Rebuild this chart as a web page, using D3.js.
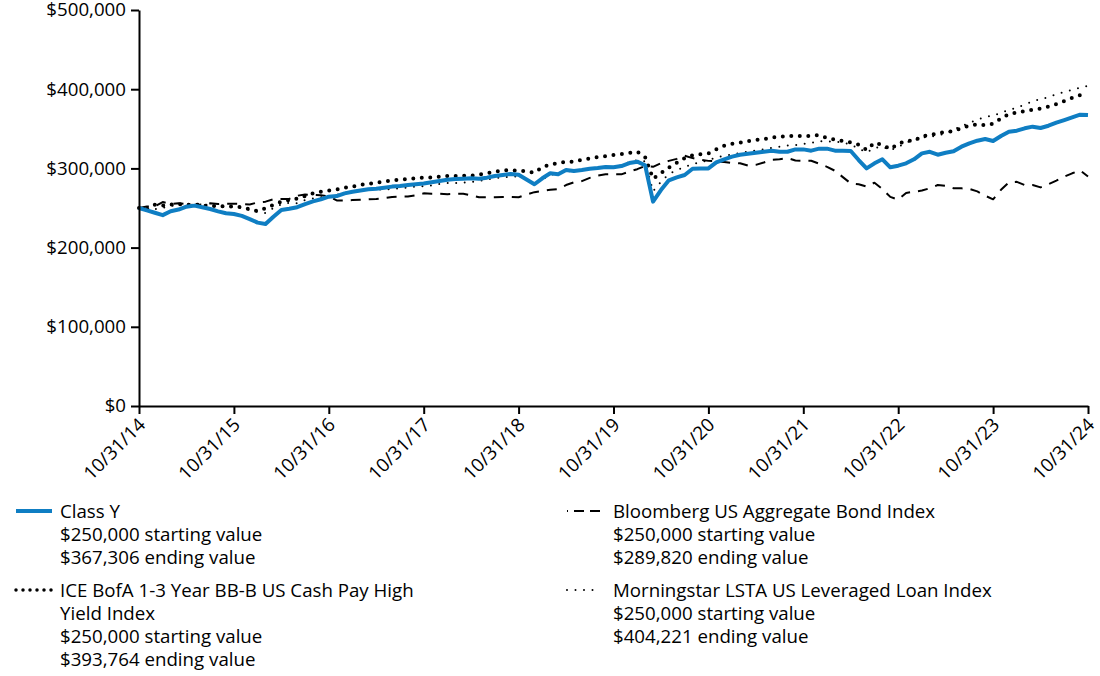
<!DOCTYPE html>
<html><head><meta charset="utf-8">
<script src="https://cdn.jsdelivr.net/npm/d3@7"></script>
<style>
body{margin:0;background:#fff;}
svg text{font-family:"Open Sans","Noto Sans",sans-serif;fill:#000;}
</style></head><body>
<svg id="chart" width="1100" height="676"></svg>
<script>
// x categories: month index 0..120 from 10/31/14 to 10/31/24 (monthly)
const tickLabels = ["10/31/14","10/31/15","10/31/16","10/31/17","10/31/18","10/31/19","10/31/20","10/31/21","10/31/22","10/31/23","10/31/24"];
const yTicks = [0,100000,200000,300000,400000,500000];

// values in thousands of dollars, month-end
const classY = [250,247,244,241,246,248,251.7,253,251,248.7,
245.8,243.3,242.4,240,236,231.5,229.8,239,247.5,249,
251,255,258.4,261,264.3,265,268.5,270.6,272,273.6,
274.4,275.6,277,277.8,279,280,281,282.4,284,285.7,
286.6,287,287.5,287,288.3,290.4,291.7,293,292,286,
280,287.5,293.8,292.5,298,296.7,298,299.6,300.5,301.8,
301.4,303,306.8,308.5,304,258,272.7,285,288.7,291.7,
299.6,300,300,307.7,311.5,314.8,317.3,318.6,319.8,321,
322.4,321,321,324,324,322.4,324.9,324.9,322.4,322.4,
322,310.6,300,306.4,311.5,301.4,303.4,306.4,311.5,319,
321,317.3,319.8,321.6,327.4,331.7,335,337.1,334.6,340.9,
346.3,347.6,350.6,352.7,351,353.9,357.7,361,364.5,367.8,
367.306];

const iceBofA = [250,248.5,254,253,254.5,255,254,254.5,253,252.5,
252.5,252,251.7,251,248.3,246,249.6,253.8,258,260,
262,265,268.5,270.6,272,273.5,275.5,277,279.5,280.5,
282,283.5,284.5,286,286.5,287.5,288.3,288.5,289.5,290.4,
290.5,290.8,291,292,294,296,297.5,298,297,296.5,
294.5,301.5,305,306.5,308.5,308.5,311,312.5,314.5,315.5,
317,318,319.5,321,314,287,294,301,307,313,
316.5,318,319,324,328.5,331,332.5,334.5,336,337,
339,340,341,341,341,341,342,338.5,336.5,334.5,
333,330,323.5,332.5,329.5,324.5,331,335,334.6,341,
341.8,344.3,346,347,351,354,355.5,354.5,356.5,363,
368.5,370.5,372.5,374,375.5,378,381,385,389,392.5,
393.764];

const bloomberg = [250,251.8,252,257.5,255,256,255,253.5,254.5,256,
255,255.5,255.5,255,254.5,257,258,261,261.5,261.5,
265.5,267,266.5,266,264.5,259.5,259.5,260,260.5,261,
261.5,262.5,264,264.5,264.5,266,268.5,268,268,267.5,
268,268,266,263.5,263.5,263.5,264,264,263.5,267,
270,271.5,273,274,279,282.5,284,288,291,292.5,
292.8,292.5,296,299,303,302,306.5,309.5,312,316,
313,311,309.5,309,308,307,306.5,303.5,304.5,307.5,
311,311.5,313,310,309.7,309.7,306,302,297,289,
281,280,277,282,274,264,260.5,269,270.5,272,
275,279,278,275,274.8,274,271,265.5,261,273,
282.5,283,279,279,276,280,284.5,289.5,293.8,297.5,
289.82];

const lsta = [250,250,248.5,250,252.5,254,255,255.5,255,253.5,
252,251.5,251.5,250,247.5,245,243.5,250,254.5,256.5,
256,260,262,263.5,265,266.5,269.5,270.5,271.5,272.5,
273.5,273.5,274,275,276,277,277.5,278.5,280.5,281.5,
281.5,282,283,284,286,288,288.5,289.5,290,287,
279.5,286.5,291,295,296.5,296.5,298.5,299.5,300,301,
302,303.5,308,310.5,309,271,283,293,297.5,302,
305.5,308,310,314,316,317.5,319.5,321,322.5,324,
326,327.5,329,329.5,330.8,332,334.5,334,333.5,333,
330,325,320,326,327.5,323,327,333,335,339,
340,341.5,344,349,353.5,357.5,361.5,365,366.5,370.5,
373.5,377,380.5,384.5,387.5,390,393.5,396.5,399,402,
404.221];

const seriesNames = ["Class Y","ICE BofA 1-3 Year BB-B US Cash Pay High Yield Index","Bloomberg US Aggregate Bond Index","Morningstar LSTA US Leveraged Loan Index"];
const startValues = ["$250,000","$250,000","$250,000","$250,000"];
const endValues = ["$367,306","$393,764","$289,820","$404,221"];

const BLUE = "#0f7ec3";
const FS = "18.7px";
const svg = d3.select("#chart");
const x = d3.scaleLinear().domain([0,120]).range([139,1088]);
const y = d3.scaleLinear().domain([0,500000]).range([406,10]);

const line = d3.line().x((d,i)=>x(i)).y(d=>y(d*1000));

const styles = {
  bloomberg:{stroke:"#000",w:2,dash:"10,8",cap:"butt"},
  lsta:{stroke:"#000",w:2,dash:"0,8.5",cap:"round"},
  ice:{stroke:"#000",w:4,dash:"0,8.5",cap:"round"},
  classY:{stroke:BLUE,w:4,dash:null,cap:"butt"}
};
const drawOrder = [[bloomberg,"bloomberg"],[lsta,"lsta"],[iceBofA,"ice"],[classY,"classY"]];
drawOrder.forEach(([data,key])=>{
  const s = styles[key];
  svg.append("path").datum(data).attr("d",line)
    .attr("fill","none").attr("stroke",s.stroke).attr("stroke-width",s.w)
    .attr("stroke-dasharray",s.dash).attr("stroke-linecap",s.cap)
    .attr("stroke-linejoin","round");
});

// axes
const yAxis = d3.axisLeft(y).tickValues(yTicks).tickFormat(d3.format("$,")).tickSize(8).tickSizeOuter(0).tickPadding(5);
const gy = svg.append("g").attr("transform","translate(139,0)").call(yAxis);
gy.selectAll("text").style("font-size",FS);

const xAxis = d3.axisBottom(x).tickValues(d3.range(0,121,12)).tickFormat((d,i)=>tickLabels[i]).tickSize(8).tickSizeOuter(0);
const gx = svg.append("g").attr("transform","translate(0,406)").call(xAxis);
gx.selectAll("text").style("font-size",FS)
  .attr("text-anchor","end").attr("dy",null).attr("y",0)
  .attr("transform","translate(7,20) rotate(-45)");

[gx,gy].forEach(g=>{
  g.select(".domain").attr("stroke","#000").attr("stroke-width",2);
  g.selectAll(".tick line").attr("stroke","#000").attr("stroke-width",2);
});

// legend
const legendPos = [[16,60,511],[16,60,590],[564,613,511],[564,613,590]];
const legendKeys = ["classY","ice","bloomberg","lsta"];
const nameLines = [["Class Y"],["ICE BofA 1-3 Year BB-B US Cash Pay High","Yield Index"],["Bloomberg US Aggregate Bond Index"],["Morningstar LSTA US Leveraged Loan Index"]];
const lh = 23.3;
legendKeys.forEach((k,i)=>{
  const [sx,tx,ty] = legendPos[i];
  const s = styles[k];
  const sw = svg.append("line").attr("x1",sx).attr("x2",sx+36).attr("y1",ty).attr("y2",ty)
    .attr("stroke",s.stroke).attr("stroke-width",s.w)
    .attr("stroke-linecap",s.cap);
  if(k==="ice") sw.attr("stroke-dasharray","0,7").attr("x1",sx).attr("x2",sx+36).attr("stroke-width",3.5);
  else if(k==="lsta") sw.attr("stroke-dasharray","0,8.5").attr("x1",sx+3).attr("x2",sx+36);
  else if(k==="bloomberg") sw.attr("stroke-dasharray","1,6,10,6,10,6").attr("x1",sx+3).attr("x2",sx+38);
  const lines = nameLines[i].concat([startValues[i]+" starting value", endValues[i]+" ending value"]);
  lines.forEach((t,j)=>{
    svg.append("text").attr("x",tx).attr("y",ty+j*lh).attr("dy","0.35em")
      .style("font-size",FS).text(t);
  });
});
</script>
</body></html>
